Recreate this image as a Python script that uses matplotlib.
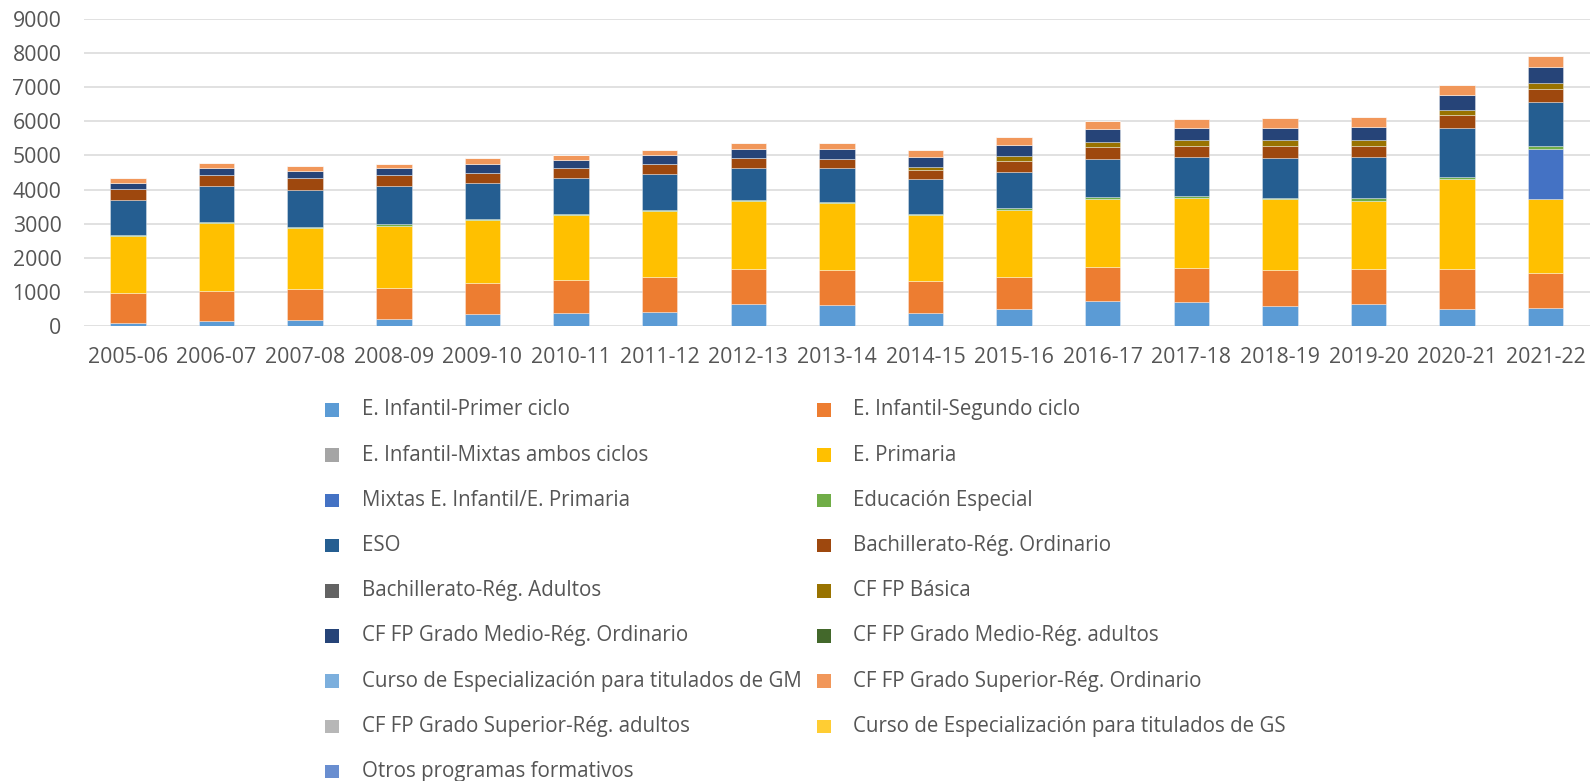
import matplotlib
matplotlib.use("Agg")
import matplotlib.pyplot as plt
from matplotlib.patches import Rectangle
import numpy as np

years = ["2005-06", "2006-07", "2007-08", "2008-09", "2009-10", "2010-11", "2011-12",
         "2012-13", "2013-14", "2014-15", "2015-16", "2016-17", "2017-18", "2018-19",
         "2019-20", "2020-21", "2021-22"]

inf_primer = [90, 130, 158, 188, 333, 363, 412, 627, 608, 382, 480, 735, 706, 588, 647, 480, 520]
inf_segundo = [860, 890, 910, 912, 932, 970, 1020, 1040, 1020, 942, 961, 990, 1000, 1059, 1020, 1187, 1019]
inf_mixtas = [0, 0, 0, 0, 0, 0, 0, 0, 0, 0, 0, 0, 0, 0, 0, 0, 0]
primaria = [1690, 1990, 1794, 1832, 1853, 1922, 1931, 1990, 1975, 1931, 1961, 2010, 2039, 2069, 2009, 2637, 2196]
mixtas_inf_prim = [0, 0, 0, 0, 0, 0, 0, 0, 0, 0, 0, 0, 0, 0, 0, 0, 1461]
especial = [30, 45, 30, 60, 30, 40, 50, 40, 45, 40, 59, 49, 69, 39, 69, 69, 88]
eso = [1020, 1060, 1106, 1110, 1040, 1040, 1030, 941, 975, 1010, 1059, 1108, 1127, 1176, 1196, 1431, 1294]
bach_ord = [315, 323, 335, 332, 304, 304, 294, 275, 275, 265, 304, 343, 343, 334, 343, 372, 363]
bach_adultos = [0, 0, 0, 0, 0, 0, 0, 0, 0, 0, 0, 0, 0, 0, 0, 0, 0]
fp_basica = [0, 0, 0, 0, 0, 0, 0, 0, 0, 88, 147, 167, 177, 196, 177, 167, 196]
gm_ord = [195, 197, 224, 186, 265, 236, 265, 264, 285, 294, 343, 373, 353, 353, 382, 422, 451]
gm_adultos = [0, 0, 0, 0, 0, 0, 0, 0, 0, 0, 0, 0, 0, 0, 0, 0, 0]
ce_gm = [0, 0, 0, 0, 0, 0, 0, 0, 0, 0, 0, 0, 0, 0, 0, 0, 0]
gs_ord = [130, 138, 138, 138, 176, 147, 147, 177, 186, 216, 235, 245, 264, 274, 275, 294, 324]
gs_adultos = [0, 0, 0, 0, 0, 0, 0, 0, 0, 0, 0, 0, 0, 0, 0, 0, 0]
ce_gs = [0, 0, 0, 0, 0, 0, 0, 0, 0, 0, 0, 0, 0, 0, 0, 0, 15]
otros = [0, 0, 0, 0, 0, 0, 0, 0, 0, 0, 0, 0, 0, 0, 0, 0, 0]

labels = ["E. Infantil-Primer ciclo", "E. Infantil-Segundo ciclo",
          "E. Infantil-Mixtas ambos ciclos", "E. Primaria",
          "Mixtas E. Infantil/E. Primaria", "Educación Especial",
          "ESO", "Bachillerato-Rég. Ordinario",
          "Bachillerato-Rég. Adultos", "CF FP Básica",
          "CF FP Grado Medio-Rég. Ordinario", "CF FP Grado Medio-Rég. adultos",
          "Curso de Especialización para titulados de GM", "CF FP Grado Superior-Rég. Ordinario",
          "CF FP Grado Superior-Rég. adultos", "Curso de Especialización para titulados de GS",
          "Otros programas formativos"]

series = [inf_primer, inf_segundo, inf_mixtas, primaria, mixtas_inf_prim, especial,
          eso, bach_ord, bach_adultos, fp_basica, gm_ord, gm_adultos, ce_gm,
          gs_ord, gs_adultos, ce_gs, otros]

colors = ["#5B9BD5", "#ED7D31", "#A5A5A5", "#FFC000", "#4472C4", "#70AD47",
          "#255E91", "#9E480E", "#636363", "#997300", "#264478", "#43682B",
          "#7CAFDD", "#F1975A", "#B7B7B7", "#FFCD33", "#698ED0"]

TXT = "#555555"
FONT = "Open Sans"
plt.rcParams["font.family"] = [FONT, "DejaVu Sans"]

W, H = 1590, 781
fig = plt.figure(figsize=(W / 100, H / 100), dpi=100)
ax = fig.add_axes([83.7 / W, 1 - 325.7 / H, 1 - 83.7 / W, (325.7 - 19.3) / H])

x = np.arange(len(years))
bottom = np.zeros(len(years))
for vals, col, lab in zip(series, colors, labels):
    v = np.array(vals, dtype=float)
    ax.bar(x, v, width=0.4, bottom=bottom, color=col, edgecolor=(1, 1, 1, 0.6),
           linewidth=0.4, label=lab, zorder=3)
    bottom += v

ax.set_xlim(-0.5, len(years) - 0.5)
ax.set_ylim(0, 9000)
ax.set_yticks(np.arange(0, 9001, 1000))
ax.set_xticks(x)
ax.set_xticklabels(years)
ax.yaxis.grid(True, color="#D9D9D9", linewidth=1.1, zorder=0)
ax.set_axisbelow(True)
for s in ax.spines.values():
    s.set_visible(False)
ax.tick_params(axis="both", length=0, labelsize=15.3, colors=TXT)
ax.tick_params(axis="y", pad=16)
ax.tick_params(axis="x", pad=15.5)

# legend (row-major, two columns)
row0, dy = 410, 45.2
col_marker = [332, 824]
col_text = [362, 853]
msz = 13.5
for i, (lab, col) in enumerate(zip(labels, colors)):
    r, c = divmod(i, 2)
    yc = row0 + r * dy
    xm = col_marker[c]
    fig.patches.append(Rectangle(((xm - msz / 2) / W, 1 - (yc + msz / 2) / H), msz / W, msz / H,
                                 transform=fig.transFigure, facecolor=col, edgecolor="none"))
    fig.text(col_text[c] / W, 1 - yc / H, lab, ha="left", va="center", fontsize=14.8, color=TXT)

fig.savefig("out.png", dpi=100, facecolor="white")
